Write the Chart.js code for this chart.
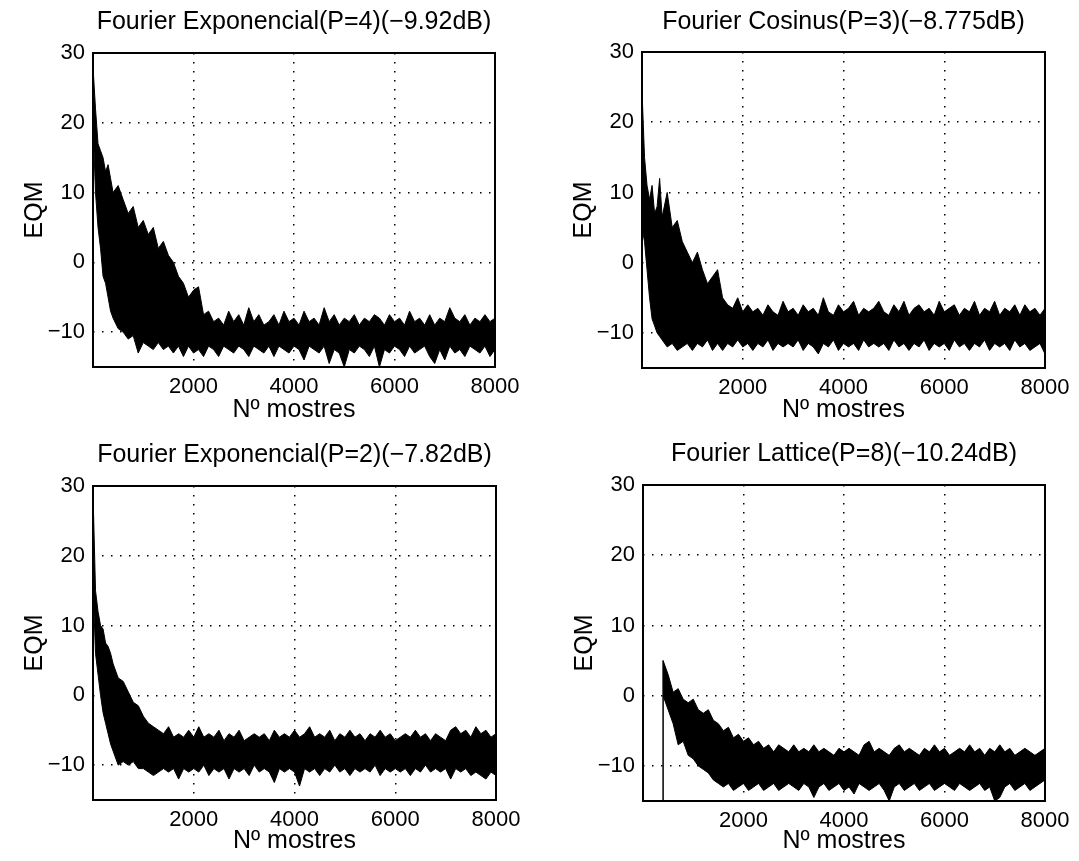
<!DOCTYPE html>
<html>
<head>
<meta charset="utf-8">
<script src="https://cdn.jsdelivr.net/npm/chart.js@4.4.0/dist/chart.umd.min.js"></script>
<style>
  body { margin: 0; background: #fff; width: 1079px; height: 861px; position: relative; overflow: hidden; }
  canvas { position: absolute; }
</style>
</head>
<body>
<canvas id="g1" width="540" height="430" style="left:0px;top:0px"></canvas>
<canvas id="g2" width="530" height="430" style="left:549px;top:0px"></canvas>
<canvas id="g3" width="540" height="428" style="left:0px;top:433px"></canvas>
<canvas id="g4" width="529" height="429" style="left:550px;top:432px"></canvas>
<script>
// mostres on es llegeix la corba (envolupant superior i inferior de la banda de soroll)
const mostres = [0, 50, 100, 150, 200, 250, 300, 350, 400,
  500, 600, 700, 800, 900, 1000, 1100, 1200, 1300, 1400,
  1500, 1600, 1700, 1800, 1900, 2000, 2100, 2200, 2300, 2400,
  2500, 2600, 2700, 2800, 2900, 3000, 3100, 3200, 3300, 3400,
  3500, 3600, 3700, 3800, 3900, 4000, 4100, 4200, 4300, 4400,
  4500, 4600, 4700, 4800, 4900, 5000, 5100, 5200, 5300, 5400,
  5500, 5600, 5700, 5800, 5900, 6000, 6100, 6200, 6300, 6400,
  6500, 6600, 6700, 6800, 6900, 7000, 7100, 7200, 7300, 7400,
  7500, 7600, 7700, 7800, 7900, 8000];

const titols = [
  'Fourier Exponencial(P=4)(\u22129.92dB)',
  'Fourier Cosinus(P=3)(\u22128.775dB)',
  'Fourier Exponencial(P=2)(\u22127.82dB)',
  'Fourier Lattice(P=8)(\u221210.24dB)'
];
const xTicks = [2000, 4000, 6000, 8000];
const yTicks = [-10, 0, 10, 20, 30];

// Fourier Exponencial P=4
const exp4Sup = [28, 22, 17, 16, 15, 13, 14, 12, 10,
  11, 9, 7, 8, 5, 6, 4, 5, 2, 3,
  1, 0, -2, -3, -5, -4, -3.5, -7.5, -7, -8.5,
  -8, -9, -7, -8.5, -7.5, -9, -6.5, -8.5, -7.5, -9,
  -8.5, -7.5, -9, -7, -8.5, -8, -9, -7, -8.5, -8,
  -9, -6.5, -8.5, -7.5, -9, -8, -8.5, -7.5, -9, -8,
  -8.5, -7.5, -8, -9, -7.5, -8.5, -8, -9, -7, -8.5,
  -8, -9, -7.5, -9, -8, -8.5, -6.5, -8, -8.5, -7.5,
  -9, -8, -8.5, -7.5, -8.5, -8];
const exp4Inf = [20, 10, 5, 2, -2, -3, -5, -7, -8,
  -9.5, -10, -11, -10.5, -13, -11.5, -12, -12.5, -11.5, -12.5,
  -12, -13, -12, -13.5, -12, -13, -12.5, -13.5, -12, -12.5,
  -13.5, -12, -12.5, -13, -12, -12.5, -13.5, -12, -12.5, -13,
  -12, -13.5, -12, -12.5, -13, -12, -12.5, -14, -12, -12.5,
  -13, -12, -14.5, -12.5, -13, -15, -12.5, -13, -12, -12.5,
  -13.5, -12, -15, -12.5, -13, -12, -12.5, -13.5, -12, -13,
  -12.5, -12, -13.5, -14.5, -12.5, -14, -12, -13, -12.5, -13.5,
  -12, -12.5, -13, -12, -13.5, -12.5];

// Fourier Cosinus P=3
const cos3Sup = [24.5, 15, 11, 9, 11, 7, 8, 12, 6.5,
  10, 5, 6, 3, 1.5, 0, 1.5, -1, -3, -2,
  -1, -5, -6, -6.5, -5, -7, -6, -7, -6.5, -7.5,
  -6, -7, -7.5, -5.5, -7, -6.5, -7.5, -6, -7, -6.5,
  -7.5, -5, -7, -7.5, -6, -7, -6.5, -5.5, -7.5, -6.5,
  -7, -6.5, -5.5, -7, -7.5, -6, -7, -5.5, -7.5, -6.5,
  -6, -7, -6.5, -7.5, -5.5, -7, -6.5, -6, -7.5, -6.5,
  -7, -5.5, -7.5, -6.5, -7, -5.5, -7.5, -6.5, -7, -6,
  -7.5, -6, -7, -6.5, -7.5, -6.5];
const cos3Inf = [5, 3, -1, -5, -8, -9, -10, -10.5, -11,
  -12, -11.5, -12.5, -12, -11.5, -12.5, -11.5, -12, -11, -12.5,
  -11.5, -12.5, -11.5, -12, -11, -12, -11.5, -12.5, -11.5, -12,
  -11, -12.5, -11.5, -12, -11.5, -12, -11, -12.5, -11.5, -12,
  -13, -11.5, -12, -11, -12.5, -11.5, -12, -11.5, -12.5, -11,
  -12, -11.5, -12, -11.5, -12.5, -11, -12, -11.5, -12.5, -11.5,
  -12, -11, -12.5, -11.5, -12, -11.5, -12.5, -11, -12, -11.5,
  -12.5, -11.5, -12, -11, -12.5, -11.5, -12, -11.5, -12.5, -11,
  -12, -11.5, -12.5, -12, -11.5, -13];

// Fourier Exponencial P=2
const exp2Sup = [29, 15, 12, 10, 9.5, 7.5, 7, 6, 4.5,
  2.5, 2, 0.5, -1, -1.5, -3, -4, -4.5, -5, -5.5,
  -4.5, -6, -5.5, -6, -5, -6, -4.5, -6, -5.5, -6,
  -5, -6.5, -5.5, -6, -5, -6.5, -6, -5.5, -6, -5.5,
  -6.5, -5, -6, -5.5, -6, -5, -6, -5.5, -4.5, -6,
  -5.5, -6, -5, -6.5, -5.5, -6, -5, -6, -5.5, -6.5,
  -5.5, -6, -5, -6, -5.5, -6.5, -6, -5.5, -6, -5,
  -6, -5.5, -6.5, -5.5, -6, -6.5, -5, -4.5, -5.5, -5,
  -6, -4.5, -5.5, -5, -6, -5.5];
const exp2Inf = [16, 6, 3, 0, -2.5, -4, -5.5, -7, -8,
  -10, -9.5, -10, -9.5, -10.5, -10.5, -11, -11.5, -11, -10.5,
  -11, -10.5, -12, -10.5, -11, -10.5, -11, -10, -11.5, -10.5,
  -11, -10.5, -12, -10.5, -11, -10.5, -11.5, -10, -11, -10.5,
  -11, -12.5, -10.5, -11, -10.5, -11, -13, -10.5, -11, -10.5,
  -11.5, -10.5, -11, -10, -11, -10.5, -11.5, -10.5, -11, -10.5,
  -11, -10, -11.5, -10.5, -11, -10.5, -11, -10.5, -11.5, -10.5,
  -11, -10, -11, -10.5, -11, -10.5, -12, -10.5, -11, -10.5,
  -11.5, -11, -11.5, -12, -11, -11.5];

// Fourier Lattice P=8 (comença a la mostra 400)
const lat8Sup = [null, null, null, null, null, null, null, null, 5,
  3, 0.5, 1, -0.5, -1, -0.5, -2, -2.5, -2, -3.5,
  -4, -5, -4.5, -6, -5.5, -6.5, -6, -7, -6.5, -7.5,
  -7, -8, -7, -7.5, -8, -7, -8, -7.5, -8, -7,
  -8, -7.5, -8, -8.5, -7.5, -8, -7.5, -8, -8.5, -7,
  -6.5, -8, -7.5, -8, -8.5, -7.5, -7, -8, -7.5, -8,
  -8.5, -7.5, -8, -7, -8, -7.5, -8.5, -8, -7.5, -8,
  -7, -8, -7.5, -8.5, -7.5, -8, -7, -8, -7.5, -8.5,
  -8, -7.5, -8, -8.5, -8, -7.5];
const lat8Inf = [null, null, null, null, null, null, null, null, 0,
  -2, -4, -7, -6.5, -8.5, -9, -10, -10.5, -11, -12,
  -12.5, -13, -12.5, -13.5, -13, -12.5, -13.5, -13, -12.5, -13.5,
  -13, -12.5, -13.5, -13, -12.5, -13, -13.5, -12.5, -13, -14.5,
  -13, -12.5, -13.5, -13, -12.5, -13.5, -13, -14, -12.5, -13,
  -13.5, -13, -12.5, -13.5, -15, -13, -12.5, -13.5, -13, -12.5,
  -13.5, -13, -12.5, -13.5, -13, -12.5, -13, -13.5, -12.5, -13,
  -13.5, -13, -12.5, -13.5, -13, -15, -14.5, -13, -12.5, -13.5,
  -13, -12.5, -13.5, -13, -12.5, -12];
const lat8IniciX = [400, 400];
const lat8IniciY = [-15, 5];

const lletra = "'Liberation Sans', Arial, Helvetica, sans-serif";

// marc continu al voltant de l'area de dibuix (com l'eix "box on")
const caixaEixos = {
  id: 'caixaEixos',
  afterDatasetsDraw(chart) {
    const ctx = chart.ctx;
    const a = chart.chartArea;
    ctx.save();
    ctx.strokeStyle = '#000';
    ctx.lineWidth = 2;
    ctx.strokeRect(a.left, a.top, a.right - a.left, a.bottom - a.top);
    ctx.restore();
  }
};

function punts(xs, ys) {
  return xs.map(function(x, i) { return {x: x, y: ys[i]}; });
}

function dibuixa(id, titol, sup, inf, inici, marge) {
  var datasets = [
    {
      data: punts(mostres, sup),
      borderColor: '#000',
      borderWidth: 1,
      pointRadius: 0,
      fill: false
    },
    {
      data: punts(mostres, inf),
      borderColor: '#000',
      backgroundColor: '#000',
      borderWidth: 1,
      pointRadius: 0,
      fill: '-1'
    }
  ];
  if (inici) {
    datasets.push({
      data: punts(inici[0], inici[1]),
      borderColor: '#000',
      borderWidth: 1.5,
      pointRadius: 0,
      fill: false
    });
  }

  new Chart(document.getElementById(id), {
    type: 'line',
    data: { datasets: datasets },
    options: {
      responsive: false,
      animation: false,
      events: [],
      layout: { padding: { left: 0, right: marge.dreta, top: 0, bottom: 0 } },
      plugins: {
        legend: { display: false },
        tooltip: { enabled: false },
        title: {
          display: true,
          text: titol,
          fullSize: false,
          color: '#000',
          font: { family: lletra, size: 25, weight: 'normal' },
          padding: { top: 7, bottom: marge.dalt - 7 - 30 }
        }
      },
      scales: {
        x: {
          type: 'linear',
          min: 0,
          max: 8000,
          afterBuildTicks: function(s) { s.ticks = xTicks.map(function(v) { return {value: v}; }); },
          afterFit: function(s) { s.height = marge.baix; },
          ticks: {
            color: '#000',
            padding: 7,
            maxRotation: 0,
            font: { family: lletra, size: 22 },
            callback: function(v) { return String(v); }
          },
          grid: { color: '#000', lineWidth: 1.5, drawTicks: false },
          border: { display: false, dash: [1.5, 7.5] },
          title: {
            display: true,
            text: 'N\u00ba mostres',
            color: '#000',
            font: { family: lletra, size: 25 },
            padding: { top: 0, bottom: 5 }
          }
        },
        y: {
          type: 'linear',
          min: -15,
          max: 30,
          afterBuildTicks: function(s) { s.ticks = yTicks.map(function(v) { return {value: v}; }); },
          afterFit: function(s) { s.width = 93; },
          ticks: {
            color: '#000',
            padding: 8,
            font: { family: lletra, size: 22 },
            callback: function(v) { return String(v).replace('-', '\u2212'); }
          },
          grid: { color: '#000', lineWidth: 1.5, drawTicks: false },
          border: { display: false, dash: [1.5, 7.5] },
          title: {
            display: true,
            text: 'EQM',
            color: '#000',
            font: { family: lletra, size: 25 },
            padding: { top: 20, bottom: 0 }
          }
        }
      }
    },
    plugins: [caixaEixos]
  });
}

dibuixa('g1', titols[0], exp4Sup, exp4Inf, null, { dalt: 53, dreta: 45, baix: 63 });
dibuixa('g2', titols[1], cos3Sup, cos3Inf, null, { dalt: 52, dreta: 34, baix: 62 });
dibuixa('g3', titols[2], exp2Sup, exp2Inf, null, { dalt: 53, dreta: 44, baix: 61 });
dibuixa('g4', titols[3], lat8Sup, lat8Inf, [lat8IniciX, lat8IniciY], { dalt: 53, dreta: 34, baix: 60 });
</script>
</body>
</html>
